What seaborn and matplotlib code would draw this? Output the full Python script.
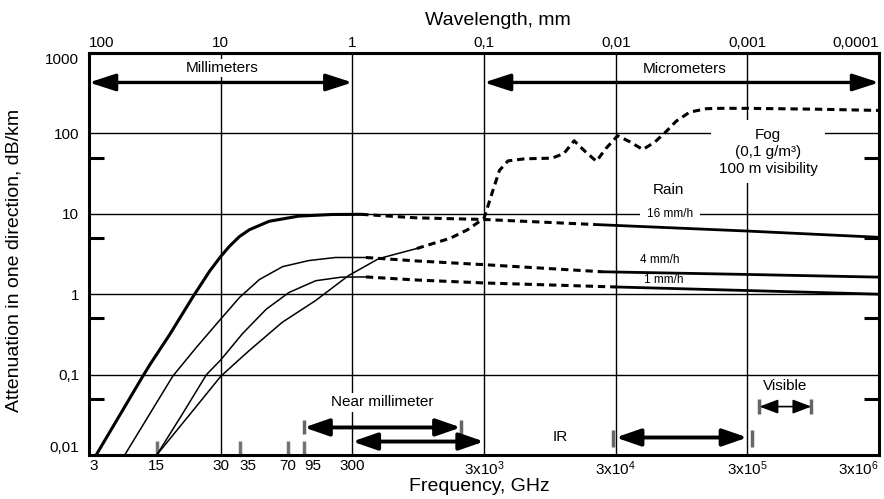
import numpy as np
import matplotlib
matplotlib.use("Agg")
import matplotlib.pyplot as plt
import seaborn as sns
from matplotlib.ticker import NullLocator, NullFormatter

# ----------------------------------------
# Values (frequency in GHz, attenuation in dB/km)
# ----------------------------------------
# Rain 16 mm/h
r16_rise_f = [3.4, 7.7, 8.7, 12.3, 18.4, 24.8, 30, 35.1, 41.7, 49.6, 70, 117, 210, 350]
r16_rise_v = [0.01, 0.096, 0.133, 0.315, 0.92, 1.95, 2.94, 3.97, 5.22, 6.34, 8.07, 9.35, 9.8, 9.85]
r16_mid_f = [350, 925, 3000, 21000]
r16_mid_v = [9.85, 8.9, 8.5, 7.35]
r16_tail_f = [21000, 3e5, 3e6]
r16_tail_v = [7.35, 6.1, 5.1]

# Rain 4 mm/h
r4_rise_f = [5.6, 13, 19.6, 30, 41.7, 59, 88.5, 140, 223, 380]
r4_rise_v = [0.01, 0.096, 0.218, 0.49, 0.91, 1.52, 2.2, 2.62, 2.86, 2.86]
r4_mid_f = [380, 925, 3000, 23800]
r4_mid_v = [2.86, 2.59, 2.33, 1.9]
r4_tail_f = [23800, 3e5, 3e6]
r4_tail_v = [1.9, 1.76, 1.63]

# Rain 1 mm/h
r1_rise_f = [9.8, 15.3, 23.4, 30, 44, 66.5, 99, 158, 248, 380]
r1_rise_v = [0.01, 0.032, 0.1, 0.152, 0.324, 0.65, 1.05, 1.47, 1.63, 1.64]
r1_mid_f = [380, 925, 3000, 30000]
r1_mid_v = [1.64, 1.5, 1.38, 1.23]
r1_tail_f = [30000, 3e5, 3e6]
r1_tail_v = [1.23, 1.11, 1.0]

# Fog (0,1 g/m3)
fog_rise_f = [9.8, 17.5, 30, 41.7, 49.6, 88, 158, 280, 476, 925]
fog_rise_v = [0.01, 0.032, 0.095, 0.155, 0.2, 0.447, 0.835, 1.7, 2.77, 3.7]
fog_f = [925, 1665, 2250, 3000, 3500, 3930, 4560, 6120, 9830, 12100, 14500, 17700,
         21400, 25300, 31000, 38200, 48200, 59200, 70600, 86500, 109500, 146700,
         191000, 3e5, 1e6, 3e6]
fog_v = [3.7, 4.97, 6.34, 8.8, 19.4, 34.7, 45.5, 48.3, 49.2, 56, 81, 59,
         45, 65, 93.5, 79, 63, 77.6, 101, 142, 184, 203,
         205, 205, 200, 193]

# Axis ticks
freq_ticks = [3, 30, 300, 3e3, 3e4, 3e5, 3e6]
freq_labels = ["3", "30", "300", "3x10$^3$", "3x10$^4$", "3x10$^5$", "3x10$^6$"]
# the marks 15/35/70/95 sit where the (schematic) original draws them
freq_marks = [9.8, 41.7, 97.6, 129]
freq_mark_labels = ["15", "35", "70", "95"]
att_ticks = [0.01, 0.1, 1, 10, 100, 1000]
att_labels = ["0,01", "0,1", "1", "10", "100", "1000"]
att_minor = [0.05, 0.5, 5, 50]
wl_ticks = [100, 10, 1, 0.1, 0.01, 0.001, 0.0001]
wl_labels = ["100", "10", "1", "0,1", "0,01", "0,001", "0,0001"]

# ----------------------------------------
# Style
# ----------------------------------------
sns.set_theme(style="white")
plt.rcParams["font.family"] = ["Liberation Sans", "DejaVu Sans"]
plt.rcParams["mathtext.fontset"] = "custom"
plt.rcParams["mathtext.rm"] = "Liberation Sans"
plt.rcParams["mathtext.default"] = "regular"
for k in ["text.color", "axes.labelcolor", "xtick.color", "ytick.color", "axes.edgecolor"]:
    plt.rcParams[k] = "black"

fig = plt.figure(figsize=(8.84, 4.99), dpi=100)
ax = fig.add_axes([0.1007, 0.0882, 0.8937, 0.8056])
ax.set_xscale("log")
ax.set_yscale("log")

dash = (0, (2.4, 1.6))


def curve(f, v, lw, ls="-"):
    sns.lineplot(x=f, y=v, ax=ax, color="black", linewidth=lw, linestyle=ls,
                 sort=False, estimator=None)


# rain curves
curve(r16_rise_f, r16_rise_v, 2.2)
curve(r16_mid_f, r16_mid_v, 2.2, dash)
curve(r16_tail_f, r16_tail_v, 2.0)
curve(r4_rise_f, r4_rise_v, 1.1)
curve(r4_mid_f, r4_mid_v, 2.2, dash)
curve(r4_tail_f, r4_tail_v, 2.0)
curve(r1_rise_f, r1_rise_v, 1.1)
curve(r1_mid_f, r1_mid_v, 2.2, dash)
curve(r1_tail_f, r1_tail_v, 2.0)
# fog
curve(fog_rise_f, fog_rise_v, 1.1)
curve(fog_f, fog_v, 2.2, dash)

ax.set_xlim(3, 3e6)
ax.set_ylim(0.01, 1000)

# ----------------------------------------
# Axes, ticks, grid
# ----------------------------------------
ax.set_xticks(freq_ticks, labels=freq_labels)
ax.set_xticks(freq_marks, labels=freq_mark_labels, minor=True)
ax.set_yticks(att_ticks, labels=att_labels)
ax.set_yticks(att_minor, minor=True)
ax.yaxis.set_minor_formatter(NullFormatter())

ax.tick_params(axis="both", which="major", length=0, labelsize=11)
ax.tick_params(axis="x", which="major", pad=3)
ax.tick_params(axis="y", which="major", pad=7)
ax.tick_params(axis="y", which="minor", direction="in", length=11, width=2.2,
               color="black", left=True, right=True)
ax.tick_params(axis="x", which="minor", direction="in", length=10, width=2.5,
               color="0.45", bottom=True, top=False, labelsize=11, pad=3)

for lab in ax.get_xticklabels():
    if lab.get_text() == "3":
        lab.set_horizontalalignment("left")
    if lab.get_text() == "3x10$^6$":
        lab.set_horizontalalignment("right")
for lab in ax.get_xticklabels(minor=True):
    if lab.get_text() in ("35", "95"):
        lab.set_horizontalalignment("left")
for lab in ax.get_yticklabels():
    if lab.get_text() == "1000":
        lab.set_verticalalignment("top")
    if lab.get_text() == "0,01":
        lab.set_verticalalignment("bottom")

ax.grid(True, which="major", color="black", linewidth=1.0)
ax.set_axisbelow(True)
for s in ax.spines.values():
    s.set_linewidth(2.2)
    s.set_color("black")

ax.set_xlabel("Frequency, GHz", fontsize=14)
ax.xaxis.set_label_coords(0.494, -0.057)
ax.set_ylabel("Attenuation in one direction, dB/km", fontsize=14)
ax.yaxis.set_label_coords(-0.084, 0.483)


# wavelength axis on top
def f2w(f):
    with np.errstate(divide="ignore"):
        return 300.0 / np.asarray(f, dtype=float)


secax = ax.secondary_xaxis("top", functions=(f2w, f2w))
secax.set_xticks(wl_ticks, labels=wl_labels)
secax.xaxis.set_minor_locator(NullLocator())
secax.tick_params(length=0, labelsize=11, pad=2)
secax.spines["top"].set_linewidth(2.2)
for lab in secax.get_xticklabels():
    if lab.get_text() == "100":
        lab.set_horizontalalignment("left")
    if lab.get_text() == "0,0001":
        lab.set_horizontalalignment("right")
secax.set_xlabel("Wavelength, mm", fontsize=14, labelpad=8)
secax.xaxis.label.set_x(0.517)

# ----------------------------------------
# Annotations
# ----------------------------------------
box = dict(facecolor="white", edgecolor="none", boxstyle="square,pad=0.15")


def arrow(x0, x1, y, lw=2.6, hl=0.8, hw=0.26, ms=20):
    ax.annotate("", xy=(x1, y), xytext=(x0, y),
                arrowprops=dict(arrowstyle=f"<|-|>,head_length={hl},head_width={hw}",
                                mutation_scale=ms, lw=lw, color="black",
                                shrinkA=0, shrinkB=0))


arrow(3, 300, 430, lw=2.4)
ax.text(30.5, 650, "Millimeters", fontsize=11, ha="center", va="center", bbox=box, zorder=1.5)
arrow(3000, 3e6, 430, lw=2.4)
ax.text(1e5, 630, "Micrometers", fontsize=11, ha="center", va="center", bbox=box, zorder=1.5)

ax.text(4.3e5, 59, "Fog\n(0,1 g/m³)\n100 m visibility", fontsize=11, ha="center",
        va="center", linespacing=1.25, zorder=1.5,
        bbox=dict(facecolor="white", edgecolor="none", boxstyle="square,pad=0.5"))
ax.text(76000, 19.5, "Rain", fontsize=11, ha="center", va="center")
ax.text(78000, 10, "16 mm/h", fontsize=8.5, ha="center", va="center", zorder=1.5,
        bbox=dict(facecolor="white", edgecolor="none", boxstyle="square,pad=0.6"))
ax.text(65000, 2.7, "4 mm/h", fontsize=8.5, ha="center", va="center")
ax.text(70000, 1.5, "1 mm/h", fontsize=8.5, ha="center", va="center")

# near millimeter
ax.text(504, 0.045, "Near millimeter", fontsize=11, ha="center", va="center", bbox=box, zorder=1.5)
arrow(129, 2000, 0.022, lw=2.8, hl=0.75, hw=0.26)
arrow(300, 3000, 0.0147, lw=2.8, hl=0.75, hw=0.26)
ax.vlines([129, 2000], 0.0185, 0.027, color="0.4", lw=2.5)

# IR
ax.text(11300, 0.0168, "IR", fontsize=11, ha="center", va="center")
arrow(3e4, 3e5, 0.0165, lw=2.8, hl=0.75, hw=0.26)
ax.vlines([2.85e4, 3.25e5], 0.0127, 0.0205, color="0.4", lw=2.5)

# visible
ax.text(5.8e5, 0.072, "Visible", fontsize=11, ha="center", va="center")
arrow(3.7e5, 9.2e5, 0.04, lw=1.2, hl=0.95, hw=0.36, ms=12)
ax.vlines([3.7e5, 9.2e5], 0.032, 0.049, color="0.4", lw=2.5)

ax.set_xlim(3, 3e6)
ax.set_ylim(0.01, 1000)

fig.savefig("out.png", dpi=100)
